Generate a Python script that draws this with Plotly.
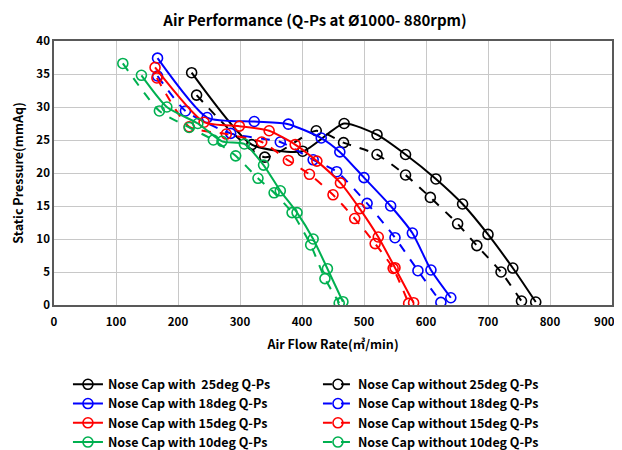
import plotly.graph_objects as go

# ---- data ----
with25_x = [222, 319, 401, 468, 521, 567, 616, 659, 700, 740, 777]
with25_y = [35.2, 24.3, 23.3, 27.5, 25.8, 22.8, 19.1, 15.3, 10.7, 5.6, 0.45]
without25_x = [230, 340, 423, 467, 521, 567, 607, 651, 682, 721, 754]
without25_y = [31.8, 22.4, 26.4, 24.6, 22.8, 19.7, 16.3, 12.3, 9.0, 5.0, 0.6]

with18_x = [167, 247, 323, 378, 431, 461, 500, 543, 578, 608, 640]
with18_y = [37.4, 28.4, 27.8, 27.4, 25.3, 23.2, 19.3, 15.0, 10.9, 5.3, 1.1]
without18_x = [167, 212, 285, 365, 418, 456, 505, 550, 587, 624]
without18_y = [34.7, 29.4, 26.0, 24.7, 22.0, 20.2, 15.4, 10.2, 5.2, 0.4]

with15_x = [163, 242, 299, 347, 389, 424, 462, 493, 523, 550, 580]
with15_y = [36.0, 27.7, 27.1, 26.4, 24.3, 21.8, 18.5, 14.6, 10.3, 5.65, 0.35]
without15_x = [166, 218, 278, 335, 378, 412, 450, 485, 518, 547, 572]
without15_y = [34.4, 27.0, 25.9, 24.7, 21.9, 19.8, 16.7, 13.1, 9.3, 5.55, 0.25]

with10_x = [141, 182, 232, 271, 307, 338, 365, 392, 418, 441, 466]
with10_y = [34.8, 30.0, 27.5, 24.8, 24.4, 21.2, 17.3, 14.0, 10.0, 5.5, 0.5]
without10_x = [111, 170, 218, 257, 293, 329, 355, 384, 414, 437, 460]
without10_y = [36.6, 29.4, 26.9, 25.0, 22.6, 19.2, 17.0, 14.0, 9.1, 4.0, 0.3]

series = [
    ("Nose Cap with  25deg Q-Ps", with25_x, with25_y, "#000000", "solid"),
    ("Nose Cap without 25deg Q-Ps", without25_x, without25_y, "#000000", "dash"),
    ("Nose Cap with 18deg Q-Ps", with18_x, with18_y, "#0000FF", "solid"),
    ("Nose Cap without 18deg Q-Ps", without18_x, without18_y, "#0000FF", "dash"),
    ("Nose Cap with 15deg Q-Ps", with15_x, with15_y, "#FF0000", "solid"),
    ("Nose Cap without 15deg Q-Ps", without15_x, without15_y, "#FF0000", "dash"),
    ("Nose Cap with 10deg Q-Ps", with10_x, with10_y, "#00B050", "solid"),
    ("Nose Cap without 10deg Q-Ps", without10_x, without10_y, "#00B050", "dash"),
]

x_ticks = [0, 100, 200, 300, 400, 500, 600, 700, 800, 900]
y_ticks = [0, 5, 10, 15, 20, 25, 30, 35, 40]

FONT = "Noto Sans CJK KR"

fig = go.Figure()
for name, xs, ys, color, dash in series:
    fig.add_trace(go.Scatter(
        x=xs, y=ys, name=name, mode="lines+markers",
        line=dict(color=color, width=2, dash=dash, shape="spline", smoothing=0.6),
        marker=dict(symbol="circle-open", size=10, color=color,
                    line=dict(color=color, width=1.6)),
    ))

# page body has an 8px margin, so the figure is sized/offset to compensate
fig.update_layout(
    width=614, height=442,
    margin=dict(l=46, r=10, t=33, b=145, autoexpand=False),
    paper_bgcolor="white", plot_bgcolor="white",
    font=dict(family=FONT, color="#000000", size=12),
    title=dict(text="<b>Air Performance (Q-Ps at Ø1000- 880rpm)</b>",
               x=0.5, xanchor="center", y=0.972, yanchor="middle",
               font=dict(family=FONT, size=15, color="#000000")),
    showlegend=True,
    legend=dict(orientation="h", x=0.025, xanchor="left", y=-0.245, yanchor="top",
                entrywidth=205, entrywidthmode="pixels",
                font=dict(family=FONT, size=12.5, color="#000000", weight="bold"),
                itemwidth=30, tracegroupgap=0, bgcolor="rgba(0,0,0,0)"),
)

# last label nudged left so it stays inside the window, as in the reference
x_ticktext = [f"<b>{v}</b>" for v in x_ticks]
x_ticktext[-1] = f"<b>{x_ticks[-1]}</b>" + "&nbsp;" * 6

fig.update_xaxes(
    range=[0, 900], tickmode="array", tickvals=x_ticks,
    ticktext=x_ticktext,
    tickfont=dict(family=FONT, size=11.5),
    ticklabelstandoff=5, ticklabeloverflow="allow",
    showgrid=True, gridcolor="#C8C8C8", gridwidth=1,
    showline=True, linecolor="#595959", linewidth=1.5, mirror=True,
    zeroline=False, ticks="",
    title=dict(text="<b>Air Flow Rate(㎥/min)</b>", standoff=13,
               font=dict(family=FONT, size=12.5)),
)
fig.update_yaxes(
    range=[0, 40], tickmode="array", tickvals=y_ticks,
    ticktext=[f"<b>{v}</b>" for v in y_ticks],
    tickfont=dict(family=FONT, size=11.5),
    showgrid=True, gridcolor="#C8C8C8", gridwidth=1,
    showline=True, linecolor="#595959", linewidth=1.5, mirror=True,
    zeroline=False, ticks="",
    title=dict(text="<b>Static Pressure(mmAq)</b>", standoff=10,
               font=dict(family=FONT, size=12.5)),
)

fig.write_html("out.html")
